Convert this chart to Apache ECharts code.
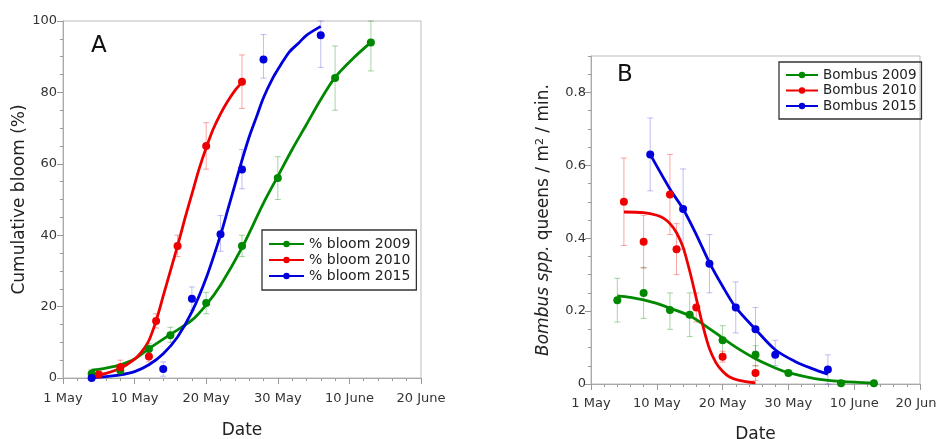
<!DOCTYPE html>
<html><head><meta charset="utf-8">
<script src="https://cdn.jsdelivr.net/npm/echarts@6/dist/echarts.min.js"></script>
<style>html,body{margin:0;padding:0;background:#fff}#c{width:937px;height:439px}</style>
</head><body><div id="c"></div>
<script>
// x values are axis days: 0 = "1 May", 10 = "10 May", ... 50 = "20 June"
const xTickLabels = ['1 May', '10 May', '20 May', '30 May', '10 June', '20 June'];
const yTicksB = [0, 0.2, 0.4, 0.6, 0.8];

// ---- Panel A: cumulative bloom (%) ----
const bloom2009Pts = [[4,1.2],[8,2.1],[12,8.1],[15,12],[20,21],[25,37],[30,56],[38,84],[43,94]];
const bloom2009Err = [[4,0,2.4],[8,1,3.5],[12,6.6,9.6],[15,10,14.2],[20,18,24],[25,34,40],[30,50,62],[38,75,93],[43,86,100]];
const bloom2009Fit = [[4,2.2],[6,2.8],[8,3.7],[10,5.3],[12,8.2],[15,12.2],[18,16.2],[20,20.5],[22,26],[25,36.5],[28,49],[30,56.5],[32,64],[34,71],[36,78],[38,84.2],[40.5,89.5],[43,94]];

const bloom2010Pts = [[5,1],[8,3],[12,6],[13,16],[16,37],[20,65],[25,83]];
const bloom2010Err = [[5,0.4,1.6],[8,1,5],[12,4.5,7.5],[13,14,18],[16,34,40],[20,58.5,71.5],[25,75.5,90.5]];
const bloom2010Fit = [[4.5,0.8],[6,1.3],[8,2.7],[10,5.3],[11,7.4],[12,10.5],[13,16],[14,23],[15,30],[16,37],[17,44.5],[18,51.5],[19,58.5],[20,64.5],[21,69.8],[22,74],[23,77.5],[24,80.5],[25,82.8]];

const bloom2015Pts = [[4,0],[14,2.5],[18,22.2],[22,40.3],[25,58.4],[28,89.2],[36,96]];
const bloom2015Err = [[4,0,0.5],[14,0.5,4.5],[18,19,25.5],[22,35.5,45.5],[25,53,64],[28,84,96.2],[36,87,100]];
const bloom2015Fit = [[4,0.1],[6,0.4],[8,0.9],[10,1.8],[12,3.7],[14,6.8],[16,11.5],[18,18.5],[20,28],[22,40],[23,47],[24,54],[25,61],[26,67.5],[27,73],[28,78.5],[29.3,84],[30.5,88],[31.6,91.3],[33,94],[34,96],[36,98.5]];

// ---- Panel B: Bombus spp. queens / m2 / min ----
const bombus2009Pts = [[4,0.23],[8,0.25],[12,0.203],[15,0.19],[20,0.12],[25,0.08],[30,0.03],[38,0.002],[43,0.002]];
const bombus2009Err = [[4,0.17,0.29],[8,0.18,0.32],[12,0.15,0.25],[15,0.13,0.25],[20,0.08,0.16],[25,0.05,0.105],[30,0.024,0.036],[38,0,0.004],[43,0,0.004]];
const bombus2009Fit = [[4,0.242],[6,0.238],[8,0.231],[10,0.221],[12,0.208],[15,0.187],[18,0.152],[20,0.126],[22,0.101],[25,0.069],[28,0.044],[30,0.031],[34,0.015],[38,0.007],[43,0.002]];

const bombus2010Pts = [[5,0.5],[8,0.39],[12,0.52],[13,0.37],[16,0.21],[20,0.075],[25,0.03]];
const bombus2010Err = [[5,0.38,0.62],[8,0.318,0.463],[12,0.41,0.63],[13,0.30,0.44],[16,0.17,0.25],[20,0.06,0.09],[25,0.01,0.05]];
const bombus2010Fit = [[5,0.472],[8,0.47],[10,0.463],[11,0.455],[12,0.44],[13,0.415],[14,0.375],[15,0.31],[16,0.235],[17,0.16],[18,0.097],[19,0.058],[20,0.035],[21,0.02],[22.5,0.01],[25,0.003]];

const bombus2015Pts = [[9,0.63],[14,0.48],[18,0.33],[22,0.21],[25,0.15],[28,0.08],[36,0.04]];
const bombus2015Err = [[9,0.53,0.73],[14,0.37,0.59],[18,0.25,0.41],[22,0.14,0.28],[25,0.09,0.21],[28,0.05,0.12],[36,0,0.08]];
const bombus2015Fit = [[9,0.63],[12,0.535],[14,0.48],[16,0.41],[18,0.333],[20,0.268],[22,0.21],[25,0.15],[28,0.094],[31,0.062],[33.5,0.043],[36,0.027]];

const GREEN = '#008800', RED = '#ee0000', BLUE = '#0000dd';
const GREEN_E = 'rgba(0,136,0,0.35)', RED_E = 'rgba(238,0,0,0.35)', BLUE_E = 'rgba(0,0,221,0.25)';
const FONT = 'DejaVu Sans';

function errSeries(data, color, xi, yi) {
  return {
    type: 'custom', xAxisIndex: xi, yAxisIndex: yi, data: data, z: 1, silent: true,
    encode: { x: 0, y: [1, 2] },
    renderItem: function (params, api) {
      const x = api.value(0), lo = api.value(1), hi = api.value(2);
      const a = api.coord([x, lo]), b = api.coord([x, hi]);
      const cw = 3;
      const st = { stroke: color, lineWidth: 1 };
      return { type: 'group', children: [
        { type: 'line', shape: { x1: a[0], y1: a[1], x2: b[0], y2: b[1] }, style: st },
        { type: 'line', shape: { x1: a[0] - cw, y1: a[1], x2: a[0] + cw, y2: a[1] }, style: st },
        { type: 'line', shape: { x1: b[0] - cw, y1: b[1], x2: b[0] + cw, y2: b[1] }, style: st }
      ] };
    }
  };
}
function ptSeries(data, color, xi, yi) {
  return { type: 'scatter', xAxisIndex: xi, yAxisIndex: yi, data: data, symbolSize: 8,
    itemStyle: { color: color, opacity: 1 }, z: 3, silent: true };
}
function fitSeries(name, data, color, xi, yi) {
  return { name: name, type: 'line', xAxisIndex: xi, yAxisIndex: yi, data: data, smooth: 0.3,
    symbol: 'circle', symbolSize: 6, showSymbol: false, lineStyle: { color: color, width: 2.8 },
    itemStyle: { color: color }, z: 2, silent: true };
}

const axisLineStyle = { lineStyle: { color: '#aaa', width: 1 } };
const tickStyle = { color: '#999', width: 1 };
function xAxisDef(gi, margin, gap) {
  return {
    type: 'value', gridIndex: gi, min: 0, max: 50, interval: 10,
    axisLine: axisLineStyle,
    axisTick: { show: true, length: 6, lineStyle: tickStyle },
    minorTick: { show: true, splitNumber: 5, length: 3, lineStyle: tickStyle },
    splitLine: { show: false },
    axisLabel: { margin: margin, fontFamily: FONT, fontSize: 13, color: '#333',
      formatter: function (v) { return xTickLabels[Math.round(v / 10)]; } },
    name: 'Date', nameLocation: 'middle', nameGap: gap,
    nameTextStyle: { fontFamily: FONT, fontSize: 17, color: '#222' }
  };
}

const option = {
  animation: false,
  backgroundColor: '#fff',
  title: [
    { text: 'A', left: 86, top: 30, textStyle: { fontFamily: FONT, fontSize: 23, fontWeight: 'normal', color: '#111' } },
    { text: 'B', left: 612, top: 59, textStyle: { fontFamily: FONT, fontSize: 23, fontWeight: 'normal', color: '#111' } }
  ],
  grid: [
    { left: 63, top: 21, width: 358, height: 357, show: true, borderColor: '#bbb', borderWidth: 1,
      containLabel: false, outerBoundsMode: 'none' },
    { left: 591, top: 56, width: 329, height: 328, show: true, borderColor: '#bbb', borderWidth: 1,
      containLabel: false, outerBoundsMode: 'none' }
  ],
  legend: [
    { data: ['% bloom 2009', '% bloom 2010', '% bloom 2015'], orient: 'vertical', left: 262, top: 230,
      padding: [7, 6, 7, 6], itemGap: 2, itemWidth: 35, itemHeight: 8,
      borderColor: '#333', borderWidth: 1.3, selectedMode: false,
      textStyle: { fontFamily: FONT, fontSize: 14, color: '#222' } },
    { data: ['Bombus 2009', 'Bombus 2010', 'Bombus 2015'], orient: 'vertical', left: 779, top: 62,
      padding: [6, 5, 6, 6], itemGap: 1.5, itemWidth: 32, itemHeight: 8,
      borderColor: '#333', borderWidth: 1.3, selectedMode: false,
      textStyle: { fontFamily: FONT, fontSize: 13.5, color: '#222' } }
  ],
  xAxis: [ xAxisDef(0, 14, 44), xAxisDef(1, 13, 42) ],
  yAxis: [
    { type: 'value', gridIndex: 0, min: 0, max: 100, interval: 20,
      axisLine: { show: true, lineStyle: { color: '#aaa', width: 1 } },
      axisTick: { show: true, length: 6, lineStyle: tickStyle },
      minorTick: { show: true, splitNumber: 4, length: 3, lineStyle: tickStyle },
      splitLine: { show: false },
      axisLabel: { margin: 6, fontFamily: FONT, fontSize: 13, color: '#333' },
      name: 'Cumulative bloom (%)', nameLocation: 'middle', nameGap: 32,
      nameTextStyle: { fontFamily: FONT, fontSize: 17, color: '#222' } },
    { type: 'value', gridIndex: 1, position: 'left', min: 0, max: 0.9, interval: 0.2,
      axisLine: { show: true, lineStyle: { color: '#aaa', width: 1 } },
      axisTick: { show: true, length: 6, lineStyle: tickStyle, customValues: yTicksB },
      splitLine: { show: false },
      axisLabel: { margin: 5, fontFamily: FONT, fontSize: 13, color: '#333', customValues: yTicksB,
        formatter: function (v) { return v > 0.85 ? '' : (v === 0 ? '0' : v.toFixed(1)); } },
      name: '{it|Bombus spp.} queens / m{sup|2} / min.', nameLocation: 'middle', nameGap: 38,
      nameTextStyle: { fontFamily: FONT, fontSize: 17, color: '#222',
        rich: { it: { fontFamily: FONT, fontSize: 17, fontStyle: 'italic', color: '#222' },
                sup: { fontFamily: FONT, fontSize: 11, color: '#222', verticalAlign: 'top', padding: [0, 0, 7, 0] } } } },
    { type: 'value', gridIndex: 1, position: 'left', offset: 0, min: 0, max: 0.9, interval: 0.05,
      axisLine: { show: false }, splitLine: { show: false },
      axisTick: { show: true, length: 3, lineStyle: tickStyle },
      axisLabel: { show: false } }
  ],
  series: [
    errSeries(bloom2009Err, GREEN_E, 0, 0),
    errSeries(bloom2010Err, RED_E, 0, 0),
    errSeries(bloom2015Err, BLUE_E, 0, 0),
    fitSeries('% bloom 2009', bloom2009Fit, GREEN, 0, 0),
    fitSeries('% bloom 2010', bloom2010Fit, RED, 0, 0),
    fitSeries('% bloom 2015', bloom2015Fit, BLUE, 0, 0),
    ptSeries(bloom2009Pts, GREEN, 0, 0),
    ptSeries(bloom2010Pts, RED, 0, 0),
    ptSeries(bloom2015Pts, BLUE, 0, 0),

    errSeries(bombus2009Err, GREEN_E, 1, 1),
    errSeries(bombus2010Err, RED_E, 1, 1),
    errSeries(bombus2015Err, BLUE_E, 1, 1),
    fitSeries('Bombus 2009', bombus2009Fit, GREEN, 1, 1),
    fitSeries('Bombus 2010', bombus2010Fit, RED, 1, 1),
    fitSeries('Bombus 2015', bombus2015Fit, BLUE, 1, 1),
    ptSeries(bombus2009Pts, GREEN, 1, 1),
    ptSeries(bombus2010Pts, RED, 1, 1),
    ptSeries(bombus2015Pts, BLUE, 1, 1)
  ]
};
const chart = echarts.init(document.getElementById('c'), null, { renderer: 'canvas' });
chart.setOption(option);
</script>
</body></html>
